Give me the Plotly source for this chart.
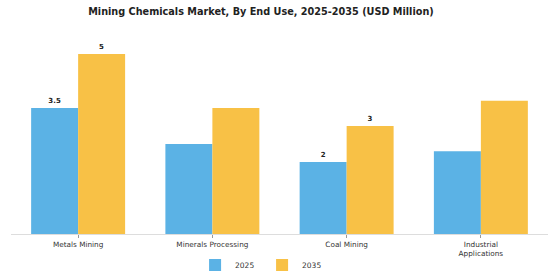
import plotly.graph_objects as go

categories = ["Metals Mining", "Minerals Processing", "Coal Mining", "Industrial<br>Applications"]
values_2025 = [3.5, 2.5, 2.0, 2.3]
values_2035 = [5.0, 3.5, 3.0, 3.7]
labels_2025 = ["3.5", "", "2", ""]
labels_2035 = ["5", "", "3", ""]

fig = go.Figure()
fig.add_trace(go.Bar(x=categories, y=values_2025, name="2025", marker_color="#5BB2E5",
                     text=labels_2025, textposition="outside", cliponaxis=False,
                     textfont=dict(size=7, color="#222", family="DejaVu Sans", weight="bold")))
fig.add_trace(go.Bar(x=categories, y=values_2035, name="2035", marker_color="#F8C146",
                     text=labels_2035, textposition="outside", cliponaxis=False,
                     textfont=dict(size=7, color="#222", family="DejaVu Sans", weight="bold")))

fig.update_layout(
    width=560, height=280,
    barmode="group", bargap=0.3, bargroupgap=0,
    paper_bgcolor="white", plot_bgcolor="white",
    margin=dict(l=11, r=12, t=36, b=46, autoexpand=False),
    font=dict(family="DejaVu Sans", size=7, color="#333"),
    title=dict(text="<b>Mining Chemicals Market, By End Use, 2025-2035 (USD Million)</b>",
               x=0.466, xanchor="center", xref="container", y=0.96, yanchor="middle",
               font=dict(size=9.7, color="#222", family="DejaVu Sans")),
    showlegend=True,
    legend=dict(orientation="h", x=0.468, xanchor="center", xref="container",
                y=0.054, yanchor="middle", yref="container", itemwidth=30,
                font=dict(size=7.5, color="#333"), entrywidth=22, entrywidthmode="pixels"),
    xaxis=dict(showline=True, linecolor="#dddddd", linewidth=1, ticks="outside",
               ticklen=3, tickcolor="#999", tickfont=dict(size=7.3, color="#333"),
               automargin=False),
    yaxis=dict(range=[0, 5.5], showgrid=False, showticklabels=False, zeroline=False,
               showline=False, automargin=False),
)
fig.update_traces(marker_line_width=0)
fig.write_html("out.html")
